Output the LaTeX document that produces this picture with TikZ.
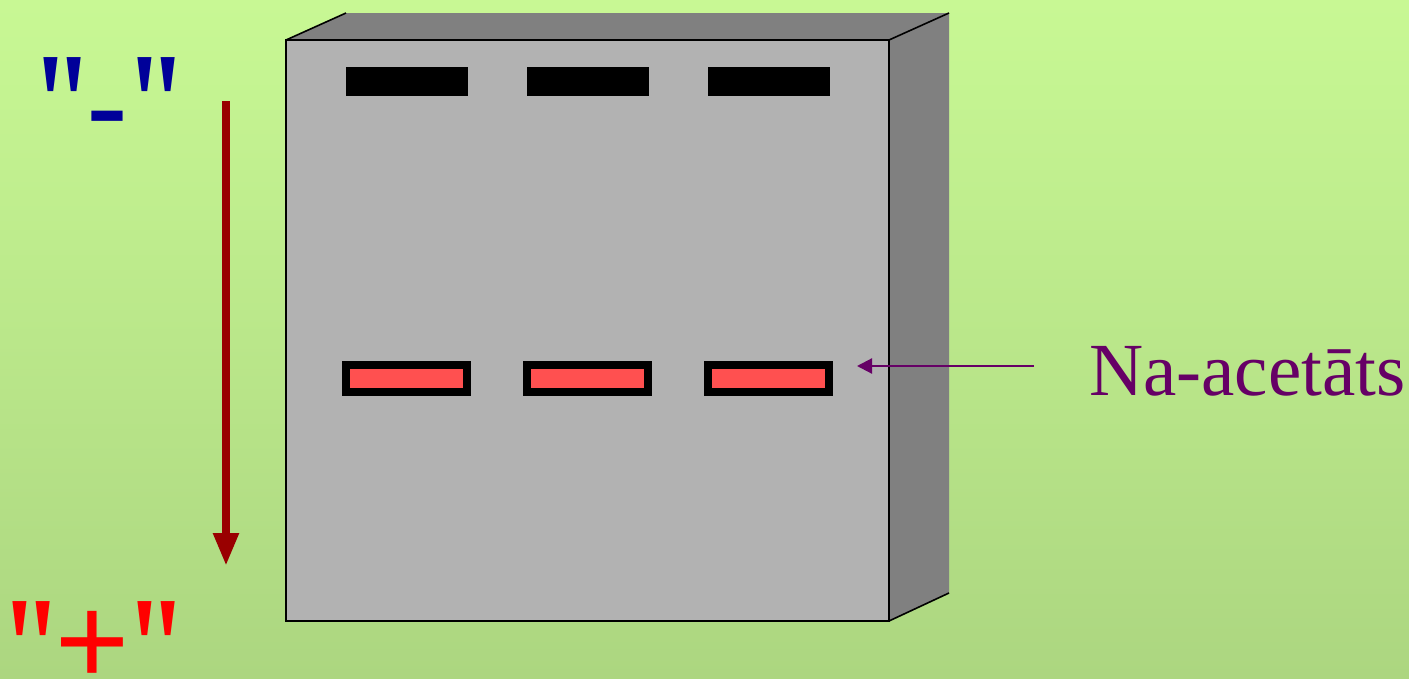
\documentclass[tikz,border=0pt]{standalone}
\usepackage{fontspec}
\setmainfont{Liberation Serif}
\newfontfamily\signfont{Liberation Serif}[Ligatures=TeXOff]
\usetikzlibrary{arrows.meta}
\definecolor{bgtop}{RGB}{200,248,148}
\definecolor{bgbot}{RGB}{172,214,128}
\definecolor{gelfront}{RGB}{178,178,178}
\definecolor{gelside}{RGB}{128,128,128}
\definecolor{bandred}{RGB}{255,80,80}
\definecolor{runred}{RGB}{153,0,0}
\definecolor{minusblue}{RGB}{0,0,153}
\definecolor{plusred}{RGB}{255,0,0}
\definecolor{labelpurple}{RGB}{102,0,102}
\newcommand\signquote{\scalebox{0.77}[1]{"}}
\tikzset{
  well/.style={fill=black, draw=none, minimum width=122pt, minimum height=29pt, inner sep=0pt},
  band/.style={fill=bandred, draw=black, line width=8pt, minimum width=121pt, minimum height=27pt, inner sep=0pt},
  edge/.style={draw=black, line width=1.6pt, line join=miter},
  quotes/.style={font=\signfont\fontsize{145}{145}\selectfont\bfseries, inner sep=0pt, anchor=north west},
}
\begin{document}
\begin{tikzpicture}[x=1pt, y=-1pt]
  % background
  \shade[top color=bgtop, bottom color=bgbot] (0,0) rectangle (1409,678);
  \useasboundingbox (0,0) rectangle (1409,678);

  % gel slab: top and side faces
  \fill[gelside] (286,40) -- (346,13) -- (949,13) -- (889,40) -- cycle;
  \fill[gelside] (889,40) -- (949,13) -- (949,593) -- (889,621) -- cycle;
  % front face
  \fill[gelfront] (286,40) rectangle (889,621);
  \draw[edge] (286,40) rectangle (889,621);
  \draw[edge] (286,40) -- (346,13);
  \draw[edge] (889,40) -- (949,13);
  \draw[edge] (889,621) -- (949,593);

  % wells
  \node[well] (w1) at (407,81.5) {};
  \node[well] (w2) at (587.5,81.5) {};
  \node[well] (w3) at (768.5,81.5) {};

  % migrated bands
  \node[band] (b1) at (406.5,378.5) {};
  \node[band] (b2) at (587.5,378.5) {};
  \node[band] (b3) at (768.5,378.5) {};

  % running direction
  \coordinate (runtop) at (226,101);
  \coordinate (runbot) at (226,566);
  \draw[runred, line width=8pt, -{Triangle[width=24pt,length=33pt]}] (runtop) -- (runbot);

  % electrode signs
  \node[quotes, text=minusblue] (mq1) at (31,57) {\signquote};
  \node[quotes, text=minusblue] (mq2) at (125,57) {\signquote};
  \node[font=\signfont\fontsize{120}{120}\selectfont\bfseries, text=minusblue, inner sep=0pt, anchor=north] (minus) at (107.5,111) {-};
  \node[quotes, text=plusred] (pq1) at (0,601) {\signquote};
  \node[quotes, text=plusred] (pq2) at (125,601) {\signquote};
  \node[font=\signfont\fontsize{133}{133}\selectfont\bfseries, text=plusred, inner sep=0pt, anchor=north] (plus) at (92,611) {+};

  % label
  \node[font=\fontsize{75}{75}\selectfont, text=labelpurple, anchor=base west, inner sep=0pt] (lab) at (1089,395) {Na-acetāts};
  \coordinate (labtail) at (1034,366);
  \coordinate (labtip) at (857,366);
  \draw[labelpurple, line width=2.2pt, -{Triangle[width=15pt,length=15pt]}] (labtail) -- (labtip);
\end{tikzpicture}
\end{document}
